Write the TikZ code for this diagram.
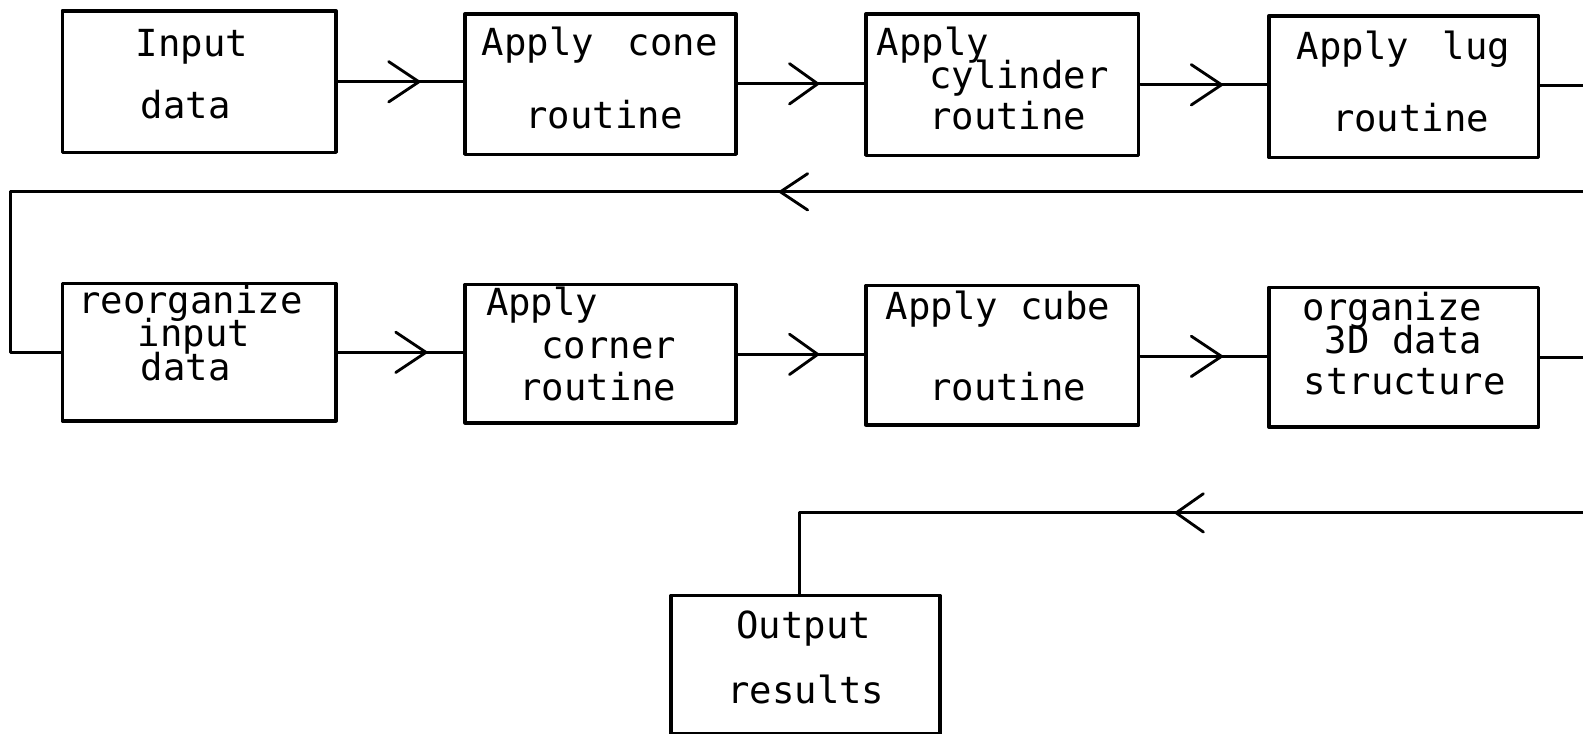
\documentclass[tikz,border=0pt]{standalone}
\usepackage{fontspec}
\newfontfamily\plotfont{DejaVu Sans Mono}
\begin{document}
\begin{tikzpicture}[x=0.01cm,y=-0.01cm,line width=0.8pt,line cap=round,line join=round,
  box/.style={draw,line width=1pt,inner sep=0pt,anchor=north west},
  txt/.style={font=\plotfont\fontsize{10.5}{12}\selectfont,anchor=base west,inner sep=0pt},
  conn/.style={line width=0.8pt}]
\useasboundingbox (0,0) rectangle (1568,727);
% row 1 boxes
\node[box,minimum width=2.71cm,minimum height=1.40cm] (in) at (60,9) {};
\node[box,minimum width=2.68cm,minimum height=1.39cm] (cone) at (459,12) {};
\node[box,minimum width=2.70cm,minimum height=1.40cm] (cyl) at (856,12) {};
\node[box,minimum width=2.67cm,minimum height=1.40cm] (lug) at (1255,14) {};
% row 2 boxes
\node[box,minimum width=2.71cm,minimum height=1.36cm] (reorg) at (60,279) {};
\node[box,minimum width=2.68cm,minimum height=1.37cm] (corner) at (459,280) {};
\node[box,minimum width=2.70cm,minimum height=1.38cm] (cube) at (856,281) {};
\node[box,minimum width=2.67cm,minimum height=1.38cm] (org) at (1255,283) {};
% output
\node[box,minimum width=2.66cm,minimum height=1.37cm] (out) at (663,588) {};
% texts
\node[txt] (t1a) at (133,56) {Input};
\node[txt] (t1b) at (138,117) {data};
\node[txt] (t2a) at (476,55) {Apply\hspace{9.5pt}cone};
\node[txt] (t2b) at (519,127) {routine};
\node[txt] (t3a) at (867,55) {Apply};
\node[txt] (t3b) at (919,88) {cylinder};
\node[txt] (t3c) at (919,128) {routine};
\node[txt] (t4a) at (1283,59) {Apply\hspace{9.5pt}lug};
\node[txt] (t4b) at (1318,130) {routine};
\node[txt] (t5a) at (76,311) {reorganize};
\node[txt] (t5b) at (135,343) {input};
\node[txt] (t5c) at (138,377) {data};
\node[txt] (t6a) at (480,313) {Apply};
\node[txt] (t6b) at (535,355) {corner};
\node[txt] (t6c) at (513,397) {routine};
\node[txt] (t7a) at (876,316) {Apply cube};
\node[txt] (t7b) at (919,397) {routine};
\node[txt] (t8a) at (1289,317) {organize};
\node[txt] (t8b) at (1311,350) {3D data};
\node[txt] (t8c) at (1290,391) {structure};
\node[txt] (t9a) at (728,632) {Output};
\node[txt] (t9b) at (719,697) {results};
% free ends at the right border
\coordinate (r1) at (1568,85);
\coordinate (r2) at (1568,190);
\coordinate (l2) at (10,190);
\coordinate (r3) at (1568,354);
\coordinate (r4) at (1568,508);
\coordinate (l4) at (792,508);
% row 1 connectors
\draw[conn] (in.east |- 0,81) -- (cone.west |- 0,81);
\draw[conn] (385,61) -- (415,81) -- (385,101);
\draw[conn] (cone.east |- 0,83) -- (cyl.west |- 0,83);
\draw[conn] (782,63) -- (810,83) -- (782,103);
\draw[conn] (cyl.east |- 0,84) -- (lug.west |- 0,84);
\draw[conn] (1180,64) -- (1210,84) -- (1180,104);
\draw[conn] (lug.east |- 0,85) -- (r1);
% return line 1
\draw[conn] (r2) -- (l2) |- (reorg.west |- 0,349);
\draw[conn] (800,172) -- (773,190) -- (800,208);
% row 2 connectors
\draw[conn] (reorg.east |- 0,349) -- (corner.west |- 0,349);
\draw[conn] (392,329) -- (422,349) -- (392,369);
\draw[conn] (corner.east |- 0,351) -- (cube.west |- 0,351);
\draw[conn] (782,331) -- (810,351) -- (782,371);
\draw[conn] (cube.east |- 0,353) -- (org.west |- 0,353);
\draw[conn] (1180,333) -- (1210,353) -- (1180,373);
\draw[conn] (org.east |- 0,354) -- (r3);
% return line 2
\draw[conn] (r4) -- (l4) -- (out.north -| l4);
\draw[conn] (1192,489) -- (1165,508) -- (1192,527);
\end{tikzpicture}
\end{document}
